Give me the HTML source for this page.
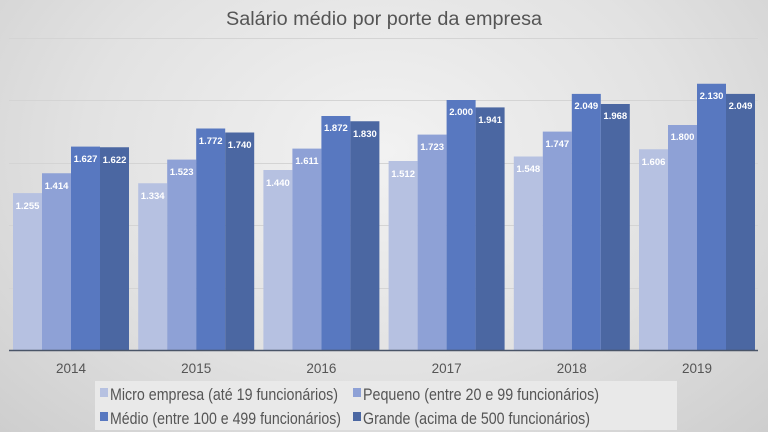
<!DOCTYPE html>
<html><head><meta charset="utf-8"><style>
html,body{margin:0;padding:0;width:768px;height:432px;overflow:hidden}
body{background:radial-gradient(ellipse at 50% 35%,#f2f2f2 0%,#e2e2e2 55%,#cecece 100%)}
svg{display:block}
</style></head><body>
<svg width="768" height="432" viewBox="0 0 768 432" font-family="Liberation Sans, sans-serif">
<text x="384" y="25" text-anchor="middle" font-size="19" fill="#555" textLength="316" lengthAdjust="spacingAndGlyphs">Salário médio por porte da empresa</text>
<g stroke="#d4d4d4" stroke-width="1">
<line x1="9" x2="758" y1="38.5" y2="38.5"/><line x1="9" x2="758" y1="100.5" y2="100.5"/><line x1="9" x2="758" y1="163.5" y2="163.5"/><line x1="9" x2="758" y1="225.5" y2="225.5"/><line x1="9" x2="758" y1="288.5" y2="288.5"/>
</g>
<g>
<rect x="13" y="193.1" width="29" height="156.9" fill="#b6c1e1"/><rect x="42" y="173.25" width="29" height="176.75" fill="#8ea1d6"/><rect x="71" y="146.6" width="29" height="203.4" fill="#5878c0"/><rect x="100" y="147.25" width="29" height="202.75" fill="#4b67a2"/>
<rect x="138.2" y="183.25" width="29" height="166.75" fill="#b6c1e1"/><rect x="167.2" y="159.6" width="29" height="190.4" fill="#8ea1d6"/><rect x="196.2" y="128.5" width="29" height="221.5" fill="#5878c0"/><rect x="225.2" y="132.5" width="29" height="217.5" fill="#4b67a2"/>
<rect x="263.4" y="170" width="29" height="180" fill="#b6c1e1"/><rect x="292.4" y="148.6" width="29" height="201.4" fill="#8ea1d6"/><rect x="321.4" y="116" width="29" height="234" fill="#5878c0"/><rect x="350.4" y="121.25" width="29" height="228.75" fill="#4b67a2"/>
<rect x="388.6" y="161" width="29" height="189" fill="#b6c1e1"/><rect x="417.6" y="134.6" width="29" height="215.4" fill="#8ea1d6"/><rect x="446.6" y="100" width="29" height="250" fill="#5878c0"/><rect x="475.6" y="107.4" width="29" height="242.6" fill="#4b67a2"/>
<rect x="513.8" y="156.5" width="29" height="193.5" fill="#b6c1e1"/><rect x="542.8" y="131.6" width="29" height="218.4" fill="#8ea1d6"/><rect x="571.8" y="93.9" width="29" height="256.1" fill="#5878c0"/><rect x="600.8" y="104" width="29" height="246" fill="#4b67a2"/>
<rect x="639" y="149.25" width="29" height="200.75" fill="#b6c1e1"/><rect x="668" y="125" width="29" height="225" fill="#8ea1d6"/><rect x="697" y="83.75" width="29" height="266.25" fill="#5878c0"/><rect x="726" y="93.9" width="29" height="256.1" fill="#4b67a2"/>
</g>
<g fill="#fff" font-size="9.5" font-weight="bold" text-anchor="middle">
<text x="27.5" y="209">1.255</text><text x="56.5" y="189">1.414</text><text x="85.5" y="162">1.627</text><text x="114.5" y="163">1.622</text>
<text x="152.7" y="199">1.334</text><text x="181.7" y="175">1.523</text><text x="210.7" y="144">1.772</text><text x="239.7" y="148">1.740</text>
<text x="277.9" y="186">1.440</text><text x="306.9" y="164">1.611</text><text x="335.9" y="131">1.872</text><text x="364.9" y="137">1.830</text>
<text x="403.1" y="177">1.512</text><text x="432.1" y="150">1.723</text><text x="461.1" y="115">2.000</text><text x="490.1" y="123">1.941</text>
<text x="528.3" y="172">1.548</text><text x="557.3" y="147">1.747</text><text x="586.3" y="109">2.049</text><text x="615.3" y="119">1.968</text>
<text x="653.5" y="165">1.606</text><text x="682.5" y="140">1.800</text><text x="711.5" y="99">2.130</text><text x="740.5" y="109">2.049</text>
</g>
<line x1="9" x2="758" y1="350.5" y2="350.5" stroke="#4a5568" stroke-width="1.5"/>
<g fill="#555" font-size="13.5" text-anchor="middle">
<text x="71" y="373">2014</text><text x="196.2" y="373">2015</text><text x="321.4" y="373">2016</text><text x="446.6" y="373">2017</text><text x="571.8" y="373">2018</text><text x="697" y="373">2019</text>
</g>
<rect x="95" y="381" width="582" height="49" fill="#e9e9e9"/>
<rect x="100" y="388" width="8" height="9" fill="#b6c1e1"/><rect x="353" y="388" width="8" height="9" fill="#8ea1d6"/>
<rect x="100" y="412" width="8" height="9" fill="#5878c0"/><rect x="353" y="412" width="8" height="9" fill="#4b67a2"/>
<g fill="#555" font-size="17">
<text x="110" y="400" textLength="228" lengthAdjust="spacingAndGlyphs">Micro empresa (até 19 funcionários)</text>
<text x="363" y="400" textLength="236" lengthAdjust="spacingAndGlyphs">Pequeno (entre 20 e 99 funcionários)</text>
<text x="110" y="424" textLength="231" lengthAdjust="spacingAndGlyphs">Médio (entre 100 e 499 funcionários)</text>
<text x="363" y="424" textLength="227" lengthAdjust="spacingAndGlyphs">Grande (acima de 500 funcionários)</text>
</g>
</svg>
</body></html>
